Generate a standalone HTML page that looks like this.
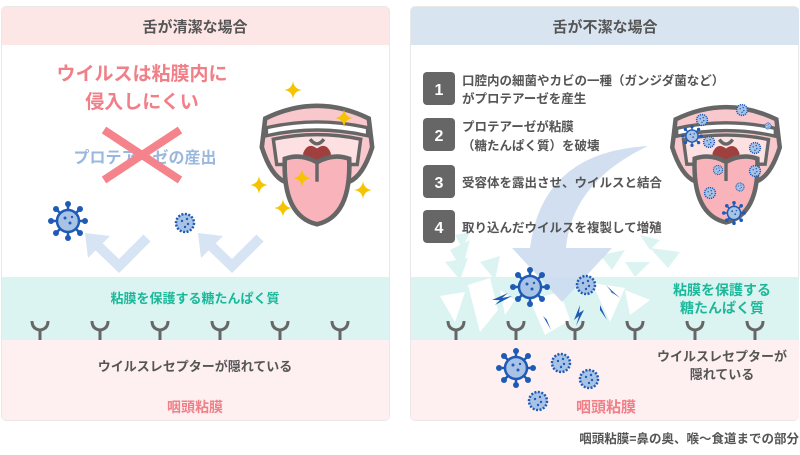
<!DOCTYPE html>
<html><head><meta charset="utf-8"><style>
body{margin:0;width:800px;height:450px;background:#fff;overflow:hidden}
svg text{font-family:"Liberation Sans","Noto Sans CJK JP",sans-serif;font-weight:bold}
</style></head><body>
<svg width="800" height="450" viewBox="0 0 800 450" xmlns="http://www.w3.org/2000/svg">
<defs>
<g id="v1"><circle r="11" fill="#a9c3e6" stroke="#1f5bb5" stroke-width="2.5"/>
<g stroke="#1f5bb5" stroke-width="2.5"><line x1="0" y1="-11" x2="0" y2="-17"/><line x1="0" y1="11" x2="0" y2="17"/><line x1="-11" y1="0" x2="-17" y2="0"/><line x1="11" y1="0" x2="17" y2="0"/><line x1="8" y1="8" x2="12" y2="12"/><line x1="-8" y1="-8" x2="-12" y2="-12"/><line x1="8" y1="-8" x2="12" y2="-12"/><line x1="-8" y1="8" x2="-12" y2="12"/></g>
<g fill="#1f5bb5"><circle cx="0" cy="-17" r="3"/><circle cx="0" cy="17" r="3"/><circle cx="-17" cy="0" r="3"/><circle cx="17" cy="0" r="3"/><circle cx="12" cy="12" r="3"/><circle cx="-12" cy="-12" r="3"/><circle cx="12" cy="-12" r="3"/><circle cx="-12" cy="12" r="3"/><circle cx="2" cy="2" r="1.5"/><circle cx="-3" cy="-3" r="1.5"/><circle cx="4" cy="-4" r="1.2"/></g></g>
<g id="v2"><circle r="9" fill="#a9c3e6" stroke="#1f5bb5" stroke-width="2.5" stroke-dasharray="2 1.5"/><g fill="#1f5bb5"><circle cx="-3" cy="-2" r="1.2"/><circle cx="3" cy="1" r="1.2"/><circle cx="0" cy="4" r="1.2"/><circle cx="2" cy="-4" r="1.2"/></g></g>
<g id="y"><path d="M-8,0 Q-8,8 0,9 Q8,8 8,0 M0,9 V19" fill="none" stroke="#666" stroke-width="3"/></g>
<g id="tongue">
<path d="M-45,-30 Q0,-52 45,-30 L48,-5 Q40,20 28,25 L-28,25 Q-40,20 -48,-5Z" fill="#f8c8cc" stroke="#666" stroke-width="4"/>
<path d="M-44,-22 Q0,-32 44,-22 L44,-15 Q0,-25 -44,-15Z" fill="#fff" stroke="#666" stroke-width="3"/>
<path d="M-38,-12 Q0,-20 38,-12 L35,10 L-35,10Z" fill="#fde0e2" stroke="#666" stroke-width="3"/>
<path d="M-12,0 Q-8,-10 0,-4 Q8,-10 12,0 L12,10 L-12,10Z" fill="#a0403e"/>
<path d="M-6,-12 Q0,-4 6,-12" fill="none" stroke="#666" stroke-width="3"/>
<path d="M-28,5 Q-30,55 0,62 Q30,55 28,5 Q14,0 0,8 Q-14,0 -28,5Z" fill="#f8b4ba" stroke="#666" stroke-width="4"/>
<line x1="0" y1="8" x2="0" y2="25" stroke="#666" stroke-width="3"/>
</g>
<path id="sp" d="M0,-9 Q1,-1 9,0 Q1,1 0,9 Q-1,1 -9,0 Q-1,-1 0,-9Z" fill="#f5c400"/>
</defs>

<!-- left panel -->
<rect x="1.5" y="6.5" width="388" height="414" rx="5" fill="#fff" stroke="#e8e8e8"/>
<path d="M2,11 Q2,7 6,7 L385,7 Q389,7 389,11 L389,45 L2,45Z" fill="#fde6e6"/>
<text x="195" y="32" font-size="15" fill="#555" text-anchor="middle">舌が清潔な場合</text>
<rect x="2" y="277" width="387" height="63" fill="#dcf4f1"/>
<path d="M2,340 H389 V416 Q389,420 385,420 H6 Q2,420 2,416Z" fill="#fef0f0"/>
<text x="142" y="80" font-size="19" fill="#f07f88" text-anchor="middle">ウイルスは粘膜内に</text>
<text x="142" y="108" font-size="19" fill="#f07f88" text-anchor="middle">侵入しにくい</text>
<text x="145" y="163" font-size="16" fill="#9ab7dd" text-anchor="middle">プロテアーゼの産出</text>
<g stroke="#f5838c" stroke-width="8"><line x1="104" y1="130" x2="180" y2="180"/><line x1="180" y1="130" x2="104" y2="180"/></g>
<g transform="translate(317,153) scale(1.15)"><use href="#tongue"/></g>
<use href="#sp" x="293" y="90"/><use href="#sp" x="344" y="118"/><use href="#sp" x="302" y="178"/><use href="#sp" x="363" y="190"/><use href="#sp" x="259" y="185"/><use href="#sp" x="283" y="208"/>
<use href="#v1" x="68" y="221"/><use href="#v2" x="185" y="223"/>
<g fill="none" stroke="#d7e4f3" stroke-width="10"><polyline points="92,240 119,266 147,238"/><polyline points="205,240 232,266 260,238"/></g>
<g fill="#d7e4f3"><polygon points="85,233 110,236 88,258"/><polygon points="198,233 223,236 201,258"/></g>
<text x="195" y="303" font-size="13" fill="#1bb89a" text-anchor="middle">粘膜を保護する糖たんぱく質</text>
<use href="#y" x="40" y="321"/><use href="#y" x="100" y="321"/><use href="#y" x="160" y="321"/><use href="#y" x="220" y="321"/><use href="#y" x="280" y="321"/><use href="#y" x="340" y="321"/>
<text x="195" y="371" font-size="13" fill="#555" text-anchor="middle">ウイルスレセプターが隠れている</text>
<text x="195" y="412" font-size="14" fill="#f07f88" text-anchor="middle">咽頭粘膜</text>

<!-- right panel -->
<rect x="410.5" y="6.5" width="388" height="414" rx="5" fill="#fff" stroke="#e8e8e8"/>
<path d="M411,11 Q411,7 415,7 L795,7 Q799,7 799,11 L799,45 L411,45Z" fill="#d9e4f1"/>
<text x="605" y="32" font-size="15" fill="#555" text-anchor="middle">舌が不潔な場合</text>
<rect x="411" y="277" width="388" height="63" fill="#dcf4f1"/>
<path d="M411,340 H799 V416 Q799,420 795,420 H415 Q411,420 411,416Z" fill="#fef0f0"/>
<g fill="#dcf4f1"><polygon points="450,250 470,240 462,270"/><polygon points="480,262 500,256 495,280"/><polygon points="600,255 625,250 612,270"/><polygon points="625,262 650,262 635,277"/><polygon points="445,262 468,258 460,280"/><polygon points="650,248 680,252 668,268"/><polygon points="455,235 470,232 462,248"/><polygon points="640,235 660,240 650,250"/></g>
<g fill="#fff"><polygon points="468,285 490,278 498,310 480,332"/><polygon points="530,300 560,292 570,320 545,335"/><polygon points="592,283 625,288 610,322"/><polygon points="440,296 465,292 455,322"/><polygon points="500,290 515,300 505,315"/><polygon points="625,290 650,300 630,315"/></g>
<path d="M648,146 Q542,152 530,248 L512,248 L562,302 L612,248 L566,248 Q572,182 648,146Z" fill="#c9d9ee" opacity="0.85"/>
<g font-size="12.5" fill="#555">
<rect x="423" y="72" width="32" height="33" rx="4" fill="#666"/><text x="439" y="95" font-size="16" fill="#fff" text-anchor="middle" font-weight="normal">1</text>
<text x="462" y="85">口腔内の細菌やカビの一種（ガンジダ菌など）</text><text x="462" y="103">がプロテアーゼを産生</text>
<rect x="423" y="118" width="32" height="33" rx="4" fill="#666"/><text x="439" y="141" font-size="16" fill="#fff" text-anchor="middle" font-weight="normal">2</text>
<text x="462" y="131">プロテアーゼが粘膜</text><text x="462" y="150">（糖たんぱく質）を破壊</text>
<rect x="423" y="165" width="32" height="33" rx="4" fill="#666"/><text x="439" y="188" font-size="16" fill="#fff" text-anchor="middle" font-weight="normal">3</text>
<text x="462" y="187">受容体を露出させ、ウイルスと結合</text>
<rect x="423" y="210" width="32" height="33" rx="4" fill="#666"/><text x="439" y="233" font-size="16" fill="#fff" text-anchor="middle" font-weight="normal">4</text>
<text x="462" y="232">取り込んだウイルスを複製して増殖</text>
</g>
<g transform="translate(726,153) scale(1.12)"><use href="#tongue"/></g>
<g transform="translate(702,120) scale(.6)"><use href="#v2"/></g>
<g transform="translate(742,110) scale(.6)"><use href="#v2"/></g>
<g transform="translate(709,142) scale(.6)"><use href="#v2"/></g>
<g transform="translate(755,148) scale(.6)"><use href="#v2"/></g>
<g transform="translate(718,170) scale(.5)"><use href="#v2"/></g>
<g transform="translate(755,171) scale(.6)"><use href="#v2"/></g>
<g transform="translate(740,187) scale(.45)"><use href="#v2"/></g>
<g transform="translate(710,193) scale(.6)"><use href="#v2"/></g>
<g transform="translate(768,126) scale(.35)"><use href="#v2"/></g>
<g transform="translate(692,136) scale(.55)"><use href="#v1"/></g>
<g transform="translate(734,213) scale(.6)"><use href="#v1"/></g>
<use href="#v1" x="530" y="287"/><use href="#v2" x="586" y="285"/>
<g fill="#1f5bb5"><polygon points="492,300 508,293 502,298 512,296 495,305 500,300"/><polygon points="545,310 548,325 546,318 551,330 543,316 547,320"/><polygon points="580,305 574,320 579,316 576,326 584,310 579,313"/><polygon points="600,305 606,318 603,312 607,320 600,310"/><polygon points="606,285 614,295 610,291 620,298 609,288"/></g>
<text x="722" y="295" font-size="14" fill="#1bb89a" text-anchor="middle">粘膜を保護する</text>
<text x="722" y="313" font-size="14" fill="#1bb89a" text-anchor="middle">糖たんぱく質</text>
<use href="#y" x="456" y="321"/><use href="#y" x="516" y="321"/><use href="#y" x="575" y="321"/><use href="#y" x="635" y="321"/><use href="#y" x="695" y="321"/><use href="#y" x="755" y="321"/>
<use href="#v1" x="516" y="368"/><use href="#v2" x="561" y="363"/><use href="#v2" x="589" y="379"/><use href="#v2" x="538" y="401"/>
<text x="722" y="361" font-size="13" fill="#555" text-anchor="middle">ウイルスレセプターが</text>
<text x="722" y="379" font-size="13" fill="#555" text-anchor="middle">隠れている</text>
<text x="606" y="412" font-size="15" fill="#f07f88" text-anchor="middle">咽頭粘膜</text>
<text x="799" y="443" font-size="12.5" fill="#555" text-anchor="end">咽頭粘膜=鼻の奥、喉～食道までの部分</text>
</svg>
</body></html>
